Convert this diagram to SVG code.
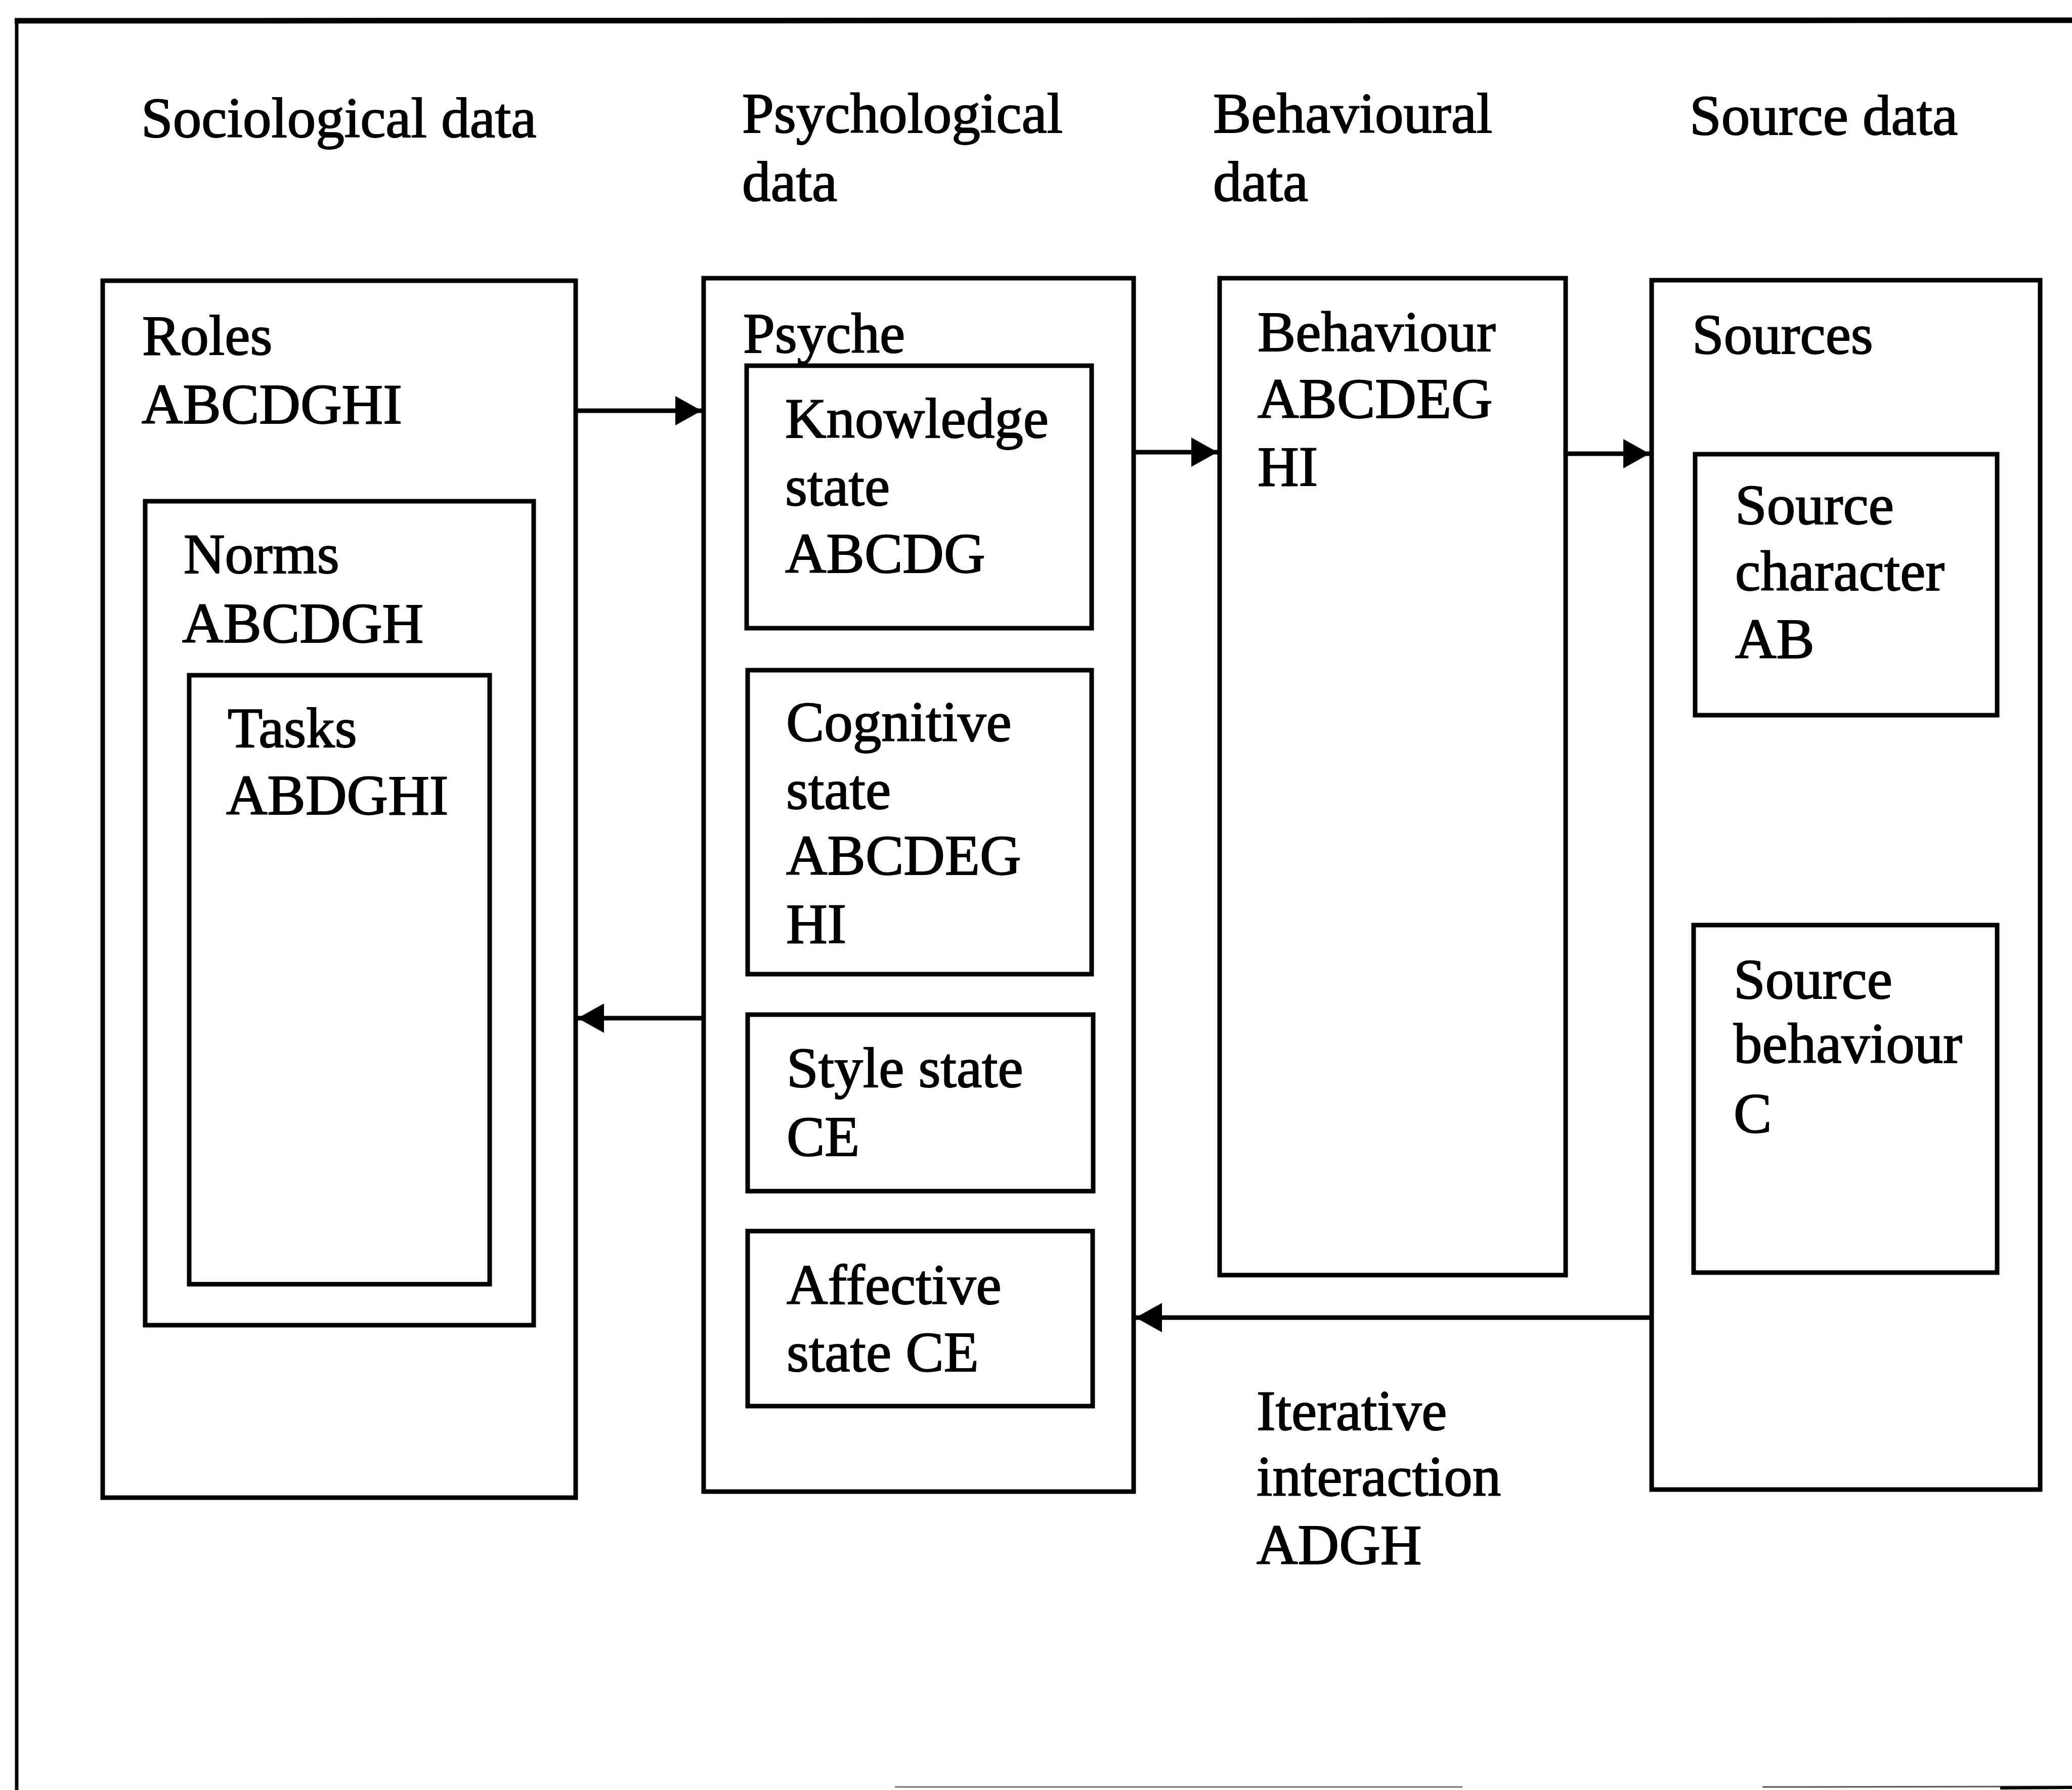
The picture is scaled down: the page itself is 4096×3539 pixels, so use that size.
<svg xmlns="http://www.w3.org/2000/svg" width="4096" height="3539" viewBox="0 0 4096 3539">
<style>
.box{fill:none;stroke:#000;stroke-width:9}
.t{font-family:"Liberation Serif","Times New Roman",serif;font-size:113px;fill:#000;stroke:#000;stroke-width:2}
.conn{stroke:#000;stroke-width:9;fill:none}
</style>
<defs>
<marker id="ah" viewBox="0 0 52 58" refX="52" refY="29" markerWidth="52" markerHeight="58" markerUnits="userSpaceOnUse" orient="auto">
<path d="M0,0 L52,29 L0,58 z" fill="#000"/>
</marker>
</defs>
<rect width="4096" height="3539" fill="#fff"/>
<g id="frame">
<line x1="33" y1="37" x2="33" y2="3539" stroke="#000" stroke-width="7"/>
<line x1="29" y1="41" x2="4096" y2="40" stroke="#000" stroke-width="11"/>
<line x1="1769" y1="3533" x2="2891" y2="3533" stroke="#777" stroke-width="3"/>
<line x1="3484" y1="3533" x2="4096" y2="3532" stroke="#555" stroke-width="3"/>
<line x1="3954" y1="3535" x2="4096" y2="3534" stroke="#000" stroke-width="6"/>
</g>
<g id="headings" class="t">
<text x="279" y="271">Sociological data</text>
<text x="1467" y="262">Psychological</text>
<text x="1467" y="397">data</text>
<text x="2398" y="262">Behavioural</text>
<text x="2398" y="397">data</text>
<text x="3340" y="266">Source data</text>
</g>
<g id="roles">
<rect class="box" x="203" y="555" width="935" height="2406"/>
<text class="t" x="281" y="701">Roles</text>
<text class="t" x="280" y="837">ABCDGHI</text>
</g>
<g id="norms">
<rect class="box" x="287" y="991" width="768" height="1629"/>
<text class="t" x="363" y="1133">Norms</text>
<text class="t" x="360" y="1270">ABCDGH</text>
</g>
<g id="tasks">
<rect class="box" x="374" y="1335" width="594" height="1204"/>
<text class="t" x="450" y="1477">Tasks</text>
<text class="t" x="447" y="1610">ABDGHI</text>
</g>
<g id="psyche">
<rect class="box" x="1391" y="550" width="850" height="2399"/>
<text class="t" x="1469" y="697">Psyche</text>
</g>
<g id="knowledge">
<rect class="box" x="1476" y="723" width="682" height="519"/>
<text class="t" x="1552" y="865">Knowledge</text>
<text class="t" x="1552" y="999">state</text>
<text class="t" x="1552" y="1132">ABCDG</text>
</g>
<g id="cognitive">
<rect class="box" x="1478" y="1325" width="680" height="601"/>
<text class="t" x="1554" y="1465">Cognitive</text>
<text class="t" x="1554" y="1599">state</text>
<text class="t" x="1554" y="1729">ABCDEG</text>
<text class="t" x="1554" y="1864">HI</text>
</g>
<g id="style">
<rect class="box" x="1478" y="2006" width="683" height="349"/>
<text class="t" x="1555" y="2149">Style state</text>
<text class="t" x="1555" y="2285">CE</text>
</g>
<g id="affective">
<rect class="box" x="1478" y="2434" width="682" height="346"/>
<text class="t" x="1555" y="2578">Affective</text>
<text class="t" x="1555" y="2711">state CE</text>
</g>
<g id="behaviour">
<rect class="box" x="2411" y="550" width="684" height="1971"/>
<text class="t" x="2486" y="694">Behaviour</text>
<text class="t" x="2486" y="826">ABCDEG</text>
<text class="t" x="2486" y="960">HI</text>
</g>
<g id="sources">
<rect class="box" x="3265" y="554" width="768" height="2391"/>
<text class="t" x="3345" y="699">Sources</text>
</g>
<g id="source-character">
<rect class="box" x="3351" y="898" width="597" height="516"/>
<text class="t" x="3430" y="1036">Source</text>
<text class="t" x="3430" y="1167">character</text>
<text class="t" x="3430" y="1301">AB</text>
</g>
<g id="source-behaviour">
<rect class="box" x="3348" y="1829" width="600" height="687"/>
<text class="t" x="3427" y="1974">Source</text>
<text class="t" x="3427" y="2101">behaviour</text>
<text class="t" x="3427" y="2239">C</text>
</g>
<g id="iterative-label" class="t">
<text x="2484" y="2827">Iterative</text>
<text x="2484" y="2957">interaction</text>
<text x="2484" y="3092">ADGH</text>
</g>
<g id="connectors">
<line class="conn" x1="1142" y1="812" x2="1387" y2="812" marker-end="url(#ah)"/>
<line class="conn" x1="2245" y1="894" x2="2407" y2="894" marker-end="url(#ah)"/>
<line class="conn" x1="3099" y1="897" x2="3261" y2="897" marker-end="url(#ah)"/>
<line class="conn" x1="1387" y1="2013" x2="1142" y2="2013" marker-end="url(#ah)"/>
<line class="conn" x1="3261" y1="2605" x2="2245" y2="2605" marker-end="url(#ah)"/>
</g>
</svg>
